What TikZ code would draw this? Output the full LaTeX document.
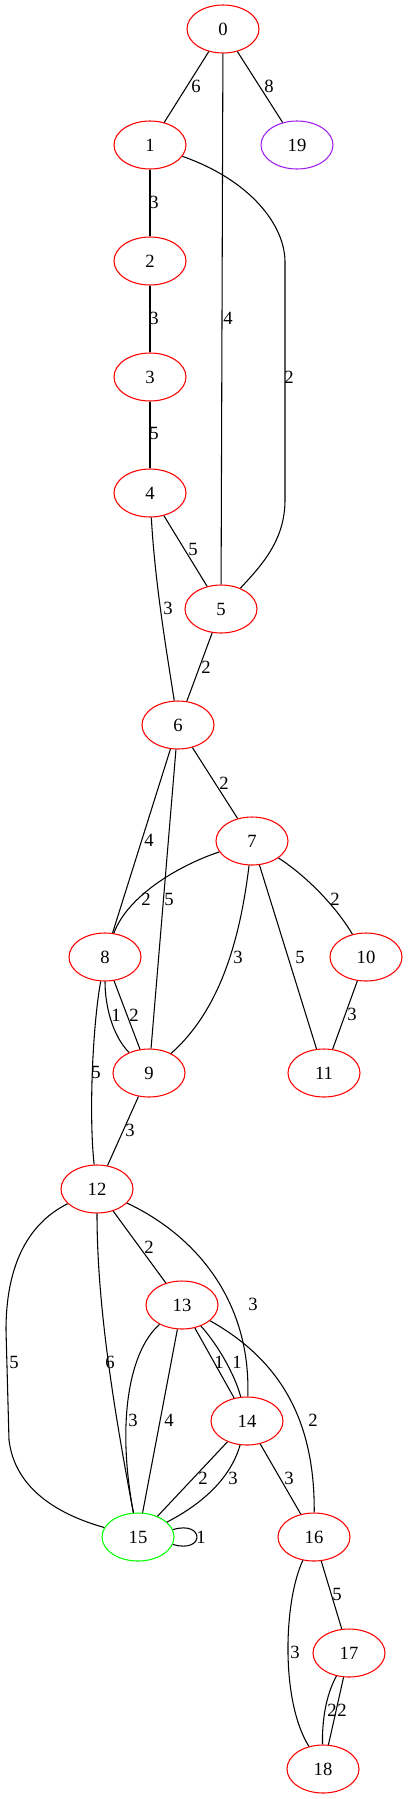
\documentclass[tikz,border=0pt]{standalone}
\usepackage{fontspec}
\setmainfont{Liberation Serif}
\usetikzlibrary{shapes.geometric}
\definecolor{vpurple}{RGB}{160,32,240}
\definecolor{vgreen}{RGB}{0,255,0}

\begin{document}
\begin{tikzpicture}[x=0.75pt, y=-0.75pt,
    vtx/.style={ellipse, draw=red, line width=0.8pt, minimum width=54pt, minimum height=36pt, inner sep=0pt, font=\fontsize{14}{16}\selectfont},
    wt/.style={inner sep=0pt, font=\fontsize{14}{16}\selectfont},
    link/.style={line width=0.8pt}
]
  \useasboundingbox (0,0) rectangle (408,1799);
  \foreach \n/\x/\y in {0/223/29, 1/150/145, 2/150/261, 3/150/377, 4/150/493, 5/221/609, 6/178/725,
      7/252/841, 8/105/957, 9/149/1073, 10/366/957, 11/324/1073, 12/97/1189, 13/182/1305,
      14/247/1421, 16/314/1537, 17/349/1653, 18/323/1769}
    \node[vtx] (n\n) at (\x,\y) {\n};
  \node[vtx, draw=vpurple] (n19) at (297,145) {19};
  \node[vtx, draw=vgreen] (n15) at (138,1537) {15};

  \draw[link] (n0) -- (n1);
  \draw[link] (n0) -- (n19);
  \draw[link] (n0) -- (n5);
  \draw[link] (n1) -- (n2);
  \draw[link] (n1) .. controls (250,180) and (285,225) .. (285,262) -- (285,500) .. controls (285,540) and (262,565) .. (n5);
  \draw[link] (n2) -- (n3);
  \draw[link] (n3) -- (n4);
  \draw[link] (n4) -- (n5);
  \draw[link] (n4) .. controls (155,585) and (168,660) .. (n6);
  \draw[link] (n5) -- (n6);
  \draw[link] (n6) -- (n7);
  \draw[link] (n6) -- (n8);
  \draw[link] (n6) -- (n9);
  \draw[link] (n7) .. controls (180,865) and (128,895) .. (n8);
  \draw[link] (n7) .. controls (240,940) and (220,1010) .. (n9);
  \draw[link] (n7) -- (n11);
  \draw[link] (n7) .. controls (305,875) and (335,905) .. (n10);
  \draw[link] (n10) -- (n11);
  \draw[link] (n8) .. controls (105,1005) and (112,1035) .. (n9);
  \draw[link] (n8) -- (n9);
  \draw[link] (n8) .. controls (92,1030) and (89,1120) .. (n12);
  \draw[link] (n9) -- (n12);
  \draw[link] (n12) -- (n13);
  \draw[link] (n12) .. controls (195,1235) and (251,1300) .. (n14);
  \draw[link] (n12) .. controls (25,1225) and (6,1270) .. (6,1330) -- (9,1440) .. controls (15,1490) and (60,1515) .. (n15);
  \draw[link] (n12) .. controls (97,1300) and (112,1400) .. (n15);
  \draw[link] (n13) .. controls (130,1350) and (116,1420) .. (n15);
  \draw[link] (n13) -- (n15);
  \draw[link] (n13) -- (n14);
  \draw[link] (n13) .. controls (218,1345) and (235,1375) .. (n14);
  \draw[link] (n13) .. controls (280,1360) and (315,1420) .. (n16);
  \draw[link] (n14) -- (n15);
  \draw[link] (n14) .. controls (230,1480) and (200,1505) .. (n15);
  \draw[link] (n14) -- (n16);
  \draw[link] (n15.12) .. controls (205,1520) and (205,1554) .. (n15.-12);
  \draw[link] (n16) -- (n17);
  \draw[link] (n16) .. controls (284,1600) and (280,1700) .. (n18);
  \draw[link] (n17) .. controls (326,1695) and (322,1720) .. (n18);
  \draw[link] (n17) -- (n18);

  \foreach \t/\x/\y [count=\i] in {6/196/86, 8/269/86, 4/228/318, 3/154/202, 3/154/318, 2/289/377,
      5/154/433, 5/193/549, 3/168/608, 2/206/667, 2/224/783, 4/149/840, 2/146/899, 5/169/899,
      2/335/899, 3/238/957, 5/300/957, 1/116/1015, 2/134/1015, 3/352/1014, 5/96/1072,
      3/130/1130, 2/149/1247, 3/253/1304, 5/14/1362, 6/110/1362, 1/219/1362, 1/237/1362,
      3/133/1420, 4/169/1420, 2/313/1420, 2/203/1478, 3/233/1478, 3/289/1478, 1/201/1537,
      5/337/1594, 3/295/1652, 2/332/1710, 2/342/1710}
    \node[wt] (w\i) at (\x,\y) {\t};
\end{tikzpicture}
\end{document}
